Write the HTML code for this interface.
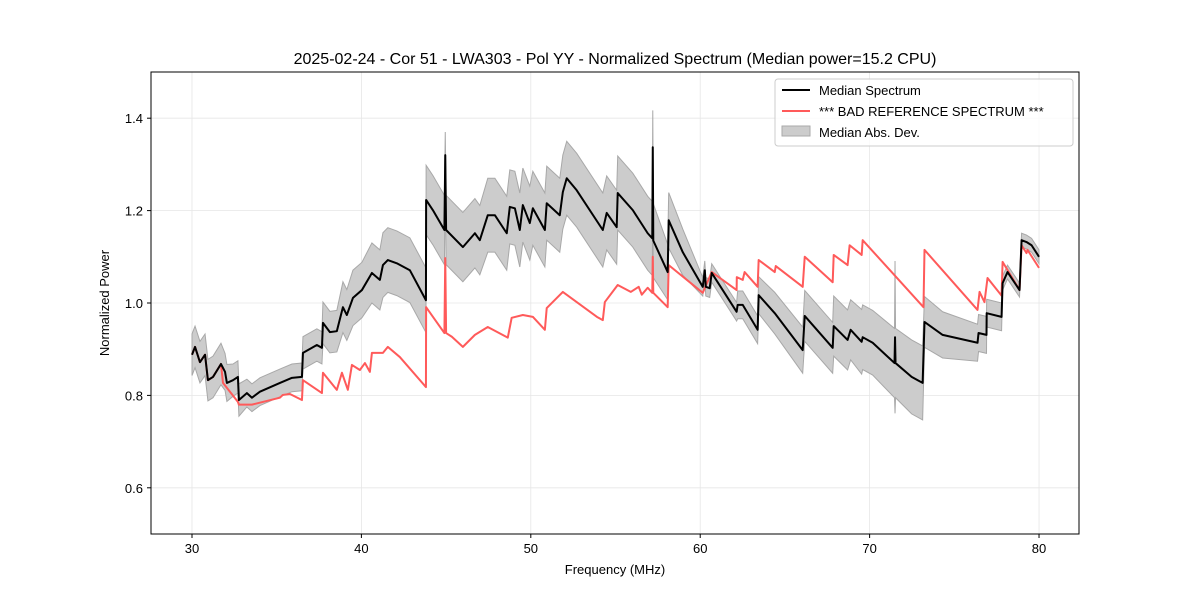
<!DOCTYPE html>
<html><head><meta charset="utf-8"><style>
body{margin:0;background:#fff;}
svg{font-family:"Liberation Sans","DejaVu Sans",sans-serif;}
</style></head><body>
<svg id="chart" width="1200" height="600">
<rect width="1200" height="600" fill="#fff"/>
<text x="615" y="64" text-anchor="middle" font-size="16">2025-02-24 - Cor 51 - LWA303 - Pol YY - Normalized Spectrum (Median power=15.2 CPU)</text>
<g id="grid"></g>
<g id="plot"></g>
<rect x="151" y="72" width="928" height="462" fill="none" stroke="#000" stroke-width="1"/>
<g id="ticks"></g>
<text x="615" y="574" text-anchor="middle" font-size="13">Frequency (MHz)</text>
<text transform="translate(109,303) rotate(-90)" text-anchor="middle" font-size="13">Normalized Power</text>
<g>
<rect x="775" y="79" width="298" height="67" rx="3" fill="#fff" fill-opacity="0.8" stroke="#ccc"/>
<g><line x1="782" y1="90" x2="810" y2="90" stroke="#000" stroke-width="2"/><text x="819" y="95" font-size="13">Median Spectrum</text></g>
<g><line x1="782" y1="111" x2="810" y2="111" stroke="#ff5a5a" stroke-width="2"/><text x="819" y="116" font-size="13">*** BAD REFERENCE SPECTRUM ***</text></g>
<g><rect x="782" y="126" width="28" height="10" fill="#cccccc" stroke="#aaa"/><text x="819" y="137" font-size="13">Median Abs. Dev.</text></g>
</g>
</svg>
<script>
const xTicks=[30,40,50,60,70,80];
const yTicks=[0.6,0.8,1.0,1.2,1.4];
const yTickLabels=["0.6","0.8","1.0","1.2","1.4"];
const medFreq=[30.00,30.18,30.47,30.77,30.94,31.24,31.71,31.95,32.06,32.42,32.71,32.77,33.24,33.54,34.01,35.19,35.90,36.49,36.55,37.37,37.67,37.73,38.14,38.55,38.91,39.14,39.50,40.03,40.62,41.09,41.27,41.56,42.09,42.86,43.81,43.82,44.22,44.90,44.95,45.00,45.99,46.70,46.99,47.46,47.88,48.58,48.76,49.06,49.35,49.53,49.94,50.12,50.83,50.94,51.71,51.89,52.12,52.71,54.25,54.48,55.07,55.13,56.02,56.90,57.17,57.20,57.23,58.08,58.14,58.97,60.15,60.27,60.33,60.56,60.68,62.15,62.21,62.51,63.39,63.45,64.40,66.05,66.17,67.82,67.88,68.70,68.88,69.53,69.59,70.18,71.47,71.50,71.53,72.48,73.13,73.24,74.31,76.37,76.43,76.90,76.91,77.79,77.85,78.14,78.85,78.97,79.26,79.56,80.00];
const medVal=[0.888,0.905,0.872,0.888,0.833,0.840,0.868,0.851,0.827,0.833,0.840,0.790,0.805,0.795,0.808,0.827,0.838,0.840,0.892,0.909,0.903,0.957,0.937,0.939,0.991,0.974,1.011,1.028,1.065,1.050,1.082,1.093,1.086,1.071,1.006,1.223,1.201,1.158,1.320,1.158,1.121,1.151,1.136,1.190,1.190,1.151,1.208,1.205,1.158,1.212,1.173,1.205,1.158,1.216,1.190,1.240,1.270,1.244,1.158,1.195,1.164,1.238,1.201,1.151,1.140,1.337,1.135,1.067,1.179,1.110,1.035,1.071,1.035,1.032,1.065,0.981,0.996,0.996,0.942,1.017,0.978,0.898,0.972,0.903,0.950,0.920,0.942,0.916,0.926,0.914,0.870,0.926,0.870,0.840,0.827,0.959,0.931,0.914,0.935,0.931,0.978,0.970,1.043,1.067,1.028,1.136,1.132,1.125,1.100];
const madVal=[0.045,0.045,0.045,0.045,0.045,0.045,0.045,0.04,0.04,0.035,0.035,0.035,0.03,0.03,0.03,0.03,0.03,0.03,0.035,0.035,0.035,0.045,0.045,0.045,0.055,0.055,0.06,0.06,0.065,0.065,0.07,0.07,0.07,0.07,0.07,0.075,0.075,0.075,0.05,0.075,0.075,0.075,0.075,0.08,0.08,0.08,0.08,0.08,0.08,0.08,0.08,0.08,0.08,0.08,0.08,0.08,0.08,0.08,0.08,0.08,0.08,0.08,0.08,0.08,0.08,0.08,0.08,0.06,0.06,0.05,0.02,0.02,0.02,0.02,0.02,0.02,0.03,0.03,0.03,0.04,0.045,0.05,0.055,0.055,0.065,0.065,0.065,0.07,0.07,0.07,0.075,0.165,0.075,0.08,0.08,0.055,0.05,0.04,0.04,0.04,0.03,0.03,0.015,0.015,0.015,0.015,0.015,0.015,0.015];
const refFreq=[30.00,30.18,30.47,30.77,30.94,31.24,31.71,31.83,32.71,32.77,33.54,35.19,35.36,35.78,36.49,36.55,37.67,37.73,38.55,38.85,39.20,39.44,39.91,40.21,40.50,40.62,41.27,41.56,42.27,43.81,43.82,44.90,44.95,45.00,45.34,45.99,46.70,47.46,48.64,48.87,49.53,50.12,50.83,50.94,51.89,53.90,54.25,54.37,55.13,55.90,56.37,56.55,56.90,57.17,57.20,57.23,58.08,58.14,60.15,60.68,62.15,62.16,62.51,62.62,63.39,63.45,64.40,64.46,66.05,66.17,67.82,67.88,68.70,68.82,69.53,69.59,73.18,73.24,76.37,76.49,76.78,76.96,77.79,77.85,78.85,78.97,79.26,79.32,80.00];
const refVal=[0.888,0.905,0.872,0.888,0.833,0.840,0.868,0.827,0.786,0.780,0.780,0.795,0.801,0.803,0.790,0.833,0.805,0.849,0.812,0.849,0.812,0.866,0.855,0.870,0.851,0.892,0.892,0.905,0.883,0.818,0.991,0.935,1.097,0.935,0.927,0.905,0.931,0.948,0.925,0.968,0.974,0.970,0.942,0.989,1.024,0.970,0.963,1.002,1.039,1.024,1.035,1.018,1.033,1.022,1.100,1.022,0.991,1.082,1.022,1.067,1.028,1.056,1.050,1.067,1.035,1.093,1.067,1.080,1.035,1.100,1.045,1.104,1.082,1.125,1.104,1.136,0.991,1.115,0.985,1.024,1.002,1.054,1.016,1.089,1.028,1.125,1.108,1.115,1.076];

const X0=151,X1=1079,Y0=534,Y1=72,xmin=27.58,xmax=82.36,ymin=0.5,ymax=1.5;
const sx=f=>X0+(f-xmin)/(xmax-xmin)*(X1-X0);
const sy=v=>Y0-(v-ymin)/(ymax-ymin)*(Y0-Y1);
const NS="http://www.w3.org/2000/svg";
const mk=(t,a,p)=>{const e=document.createElementNS(NS,t);for(const k in a)e.setAttribute(k,a[k]);p.appendChild(e);return e;};
const grid=document.getElementById('grid'),ticks=document.getElementById('ticks'),plot=document.getElementById('plot');
xTicks.forEach(t=>{
 const g=mk('line',{x1:sx(t),x2:sx(t),y1:Y1,y2:Y0,stroke:'#e6e6e6','stroke-width':0.8},grid);
 
 
 const tk=mk('line',{x1:sx(t),x2:sx(t),y1:Y0,y2:Y0+4,stroke:'#000'},ticks);
 
 
 const tl=mk('text',{x:sx(t),y:Y0+19,'text-anchor':'middle','font-size':13},ticks);tl.textContent=t;
 
 
});
yTicks.forEach((t,i)=>{
 const g=mk('line',{x1:X0,x2:X1,y1:sy(t),y2:sy(t),stroke:'#e6e6e6','stroke-width':0.8},grid);
 
 
 const tk=mk('line',{x1:X0-4,x2:X0,y1:sy(t),y2:sy(t),stroke:'#000'},ticks);
 
 
 const tl=mk('text',{x:X0-8,y:sy(t)+5,'text-anchor':'end','font-size':13},ticks);tl.textContent=yTickLabels[i];
 
 
});
let up=medFreq.map((f,i)=>sx(f)+','+sy(medVal[i]+madVal[i]));
let lo=medFreq.map((f,i)=>sx(f)+','+sy(medVal[i]-madVal[i])).reverse();
const band=mk('polygon',{points:up.concat(lo).join(' '),fill:'#cccccc',stroke:'#a8a8a8','stroke-width':1},plot);


const ref=mk('polyline',{points:refFreq.map((f,i)=>sx(f)+','+sy(refVal[i])).join(' '),fill:'none',stroke:'#ff5a5a','stroke-width':2,'stroke-linejoin':'round'},plot);


const med=mk('polyline',{points:medFreq.map((f,i)=>sx(f)+','+sy(medVal[i])).join(' '),fill:'none',stroke:'#000','stroke-width':2,'stroke-linejoin':'round'},plot);


</script>
</body></html>
